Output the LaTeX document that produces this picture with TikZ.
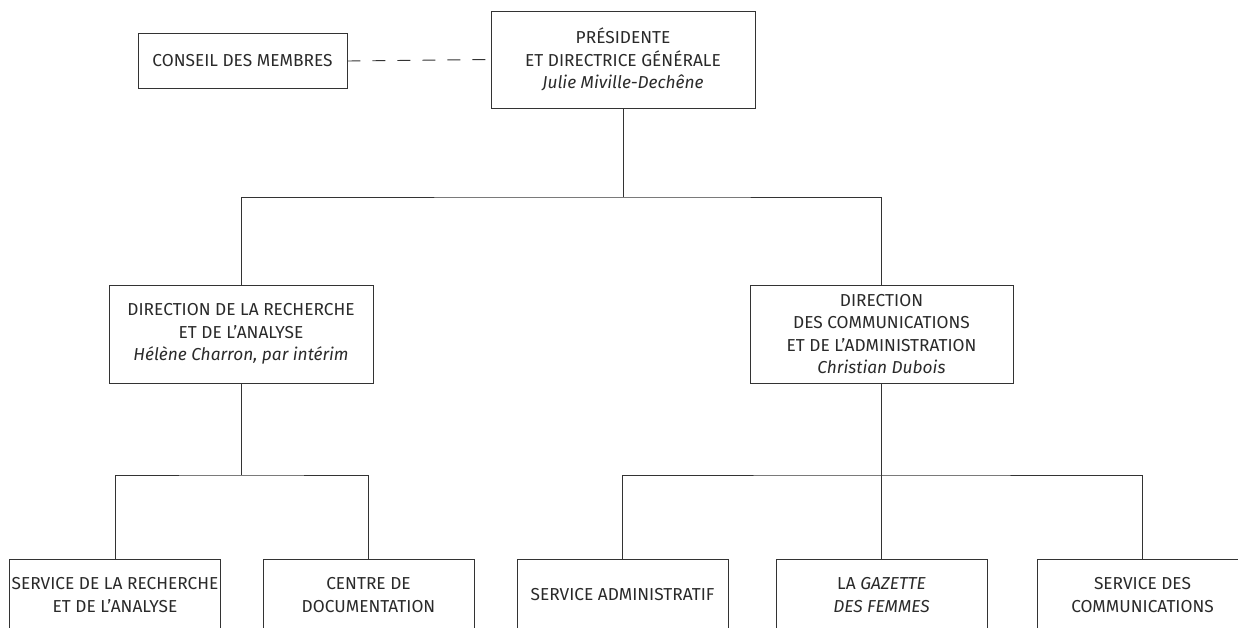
\documentclass[tikz,border=0pt]{standalone}
\usepackage{fontspec}
\setmainfont{Fira Sans}
\definecolor{linec}{HTML}{333333}
\definecolor{textc}{HTML}{2a2a2a}
\tikzset{
  box/.style={draw=linec, line width=0.9pt, fill=white, align=center, inner sep=0pt,
    text=textc, font=\fontsize{17.3}{22.5}\selectfont},
  conn/.style={draw=linec, line width=0.9pt},
  dashconn/.style={draw=linec, line width=0.9pt, dash pattern=on 13pt off 12pt}
}
\begin{document}
\begin{tikzpicture}[x=1pt,y=-1pt]
\useasboundingbox (0,0) rectangle (1238,628);
\fill[white] (0,0) rectangle (1238,628);
% top
\node[box, minimum width=264pt, minimum height=97pt] (pres) at (623,59.5)
  {PRÉSIDENTE\\ET DIRECTRICE GÉNÉRALE\\\textit{Julie Miville-Dechêne}};
\node[box, minimum width=209pt, minimum height=55pt] (cons) at (242.5,61)
  {CONSEIL DES MEMBRES};
% directions
\node[box, minimum width=264pt, minimum height=98pt] (dra) at (241,334)
  {DIRECTION DE LA RECHERCHE\\ET DE L’ANALYSE\\\textit{Hélène Charron, par intérim}};
\node[box, minimum width=263pt, minimum height=98pt] (dca) at (881.5,334)
  {DIRECTION\\DES COMMUNICATIONS\\ET DE L’ADMINISTRATION\\\textit{Christian Dubois}};
% services
\node[box, minimum width=211pt, minimum height=72pt] (s1) at (115,595)
  {SERVICE DE LA RECHERCHE\\ET DE L’ANALYSE};
\node[box, minimum width=211pt, minimum height=72pt] (s2) at (368.5,595)
  {CENTRE DE\\DOCUMENTATION};
\node[box, minimum width=211pt, minimum height=72pt] (s3) at (622.5,595)
  {SERVICE ADMINISTRATIF};
\node[box, minimum width=211pt, minimum height=72pt] (s4) at (881.5,595)
  {LA \textit{GAZETTE}\\\textit{DES FEMMES}};
\node[box, minimum width=211pt, minimum height=72pt] (s5) at (1142.5,595)
  {SERVICE DES\\COMMUNICATIONS};
% coordinates
\coordinate (b1) at (623,197);
\coordinate (b2) at (241,475);
\coordinate (b3) at (881.5,475);
% connectors
\draw[dashconn] (cons.east) -- (pres.west);
\draw[conn] (pres.south) -- (b1);
\draw[conn] (dra.north) |- (b1) -| (dca.north);
\draw[conn] (dra.south) -- (b2);
\draw[conn] (s1.north) |- (b2) -| (s2.north);
\draw[conn] (dca.south) -- (b3) -- (s4.north);
\draw[conn] (s3.north) |- (b3) -| (s5.north);
\end{tikzpicture}
\end{document}
